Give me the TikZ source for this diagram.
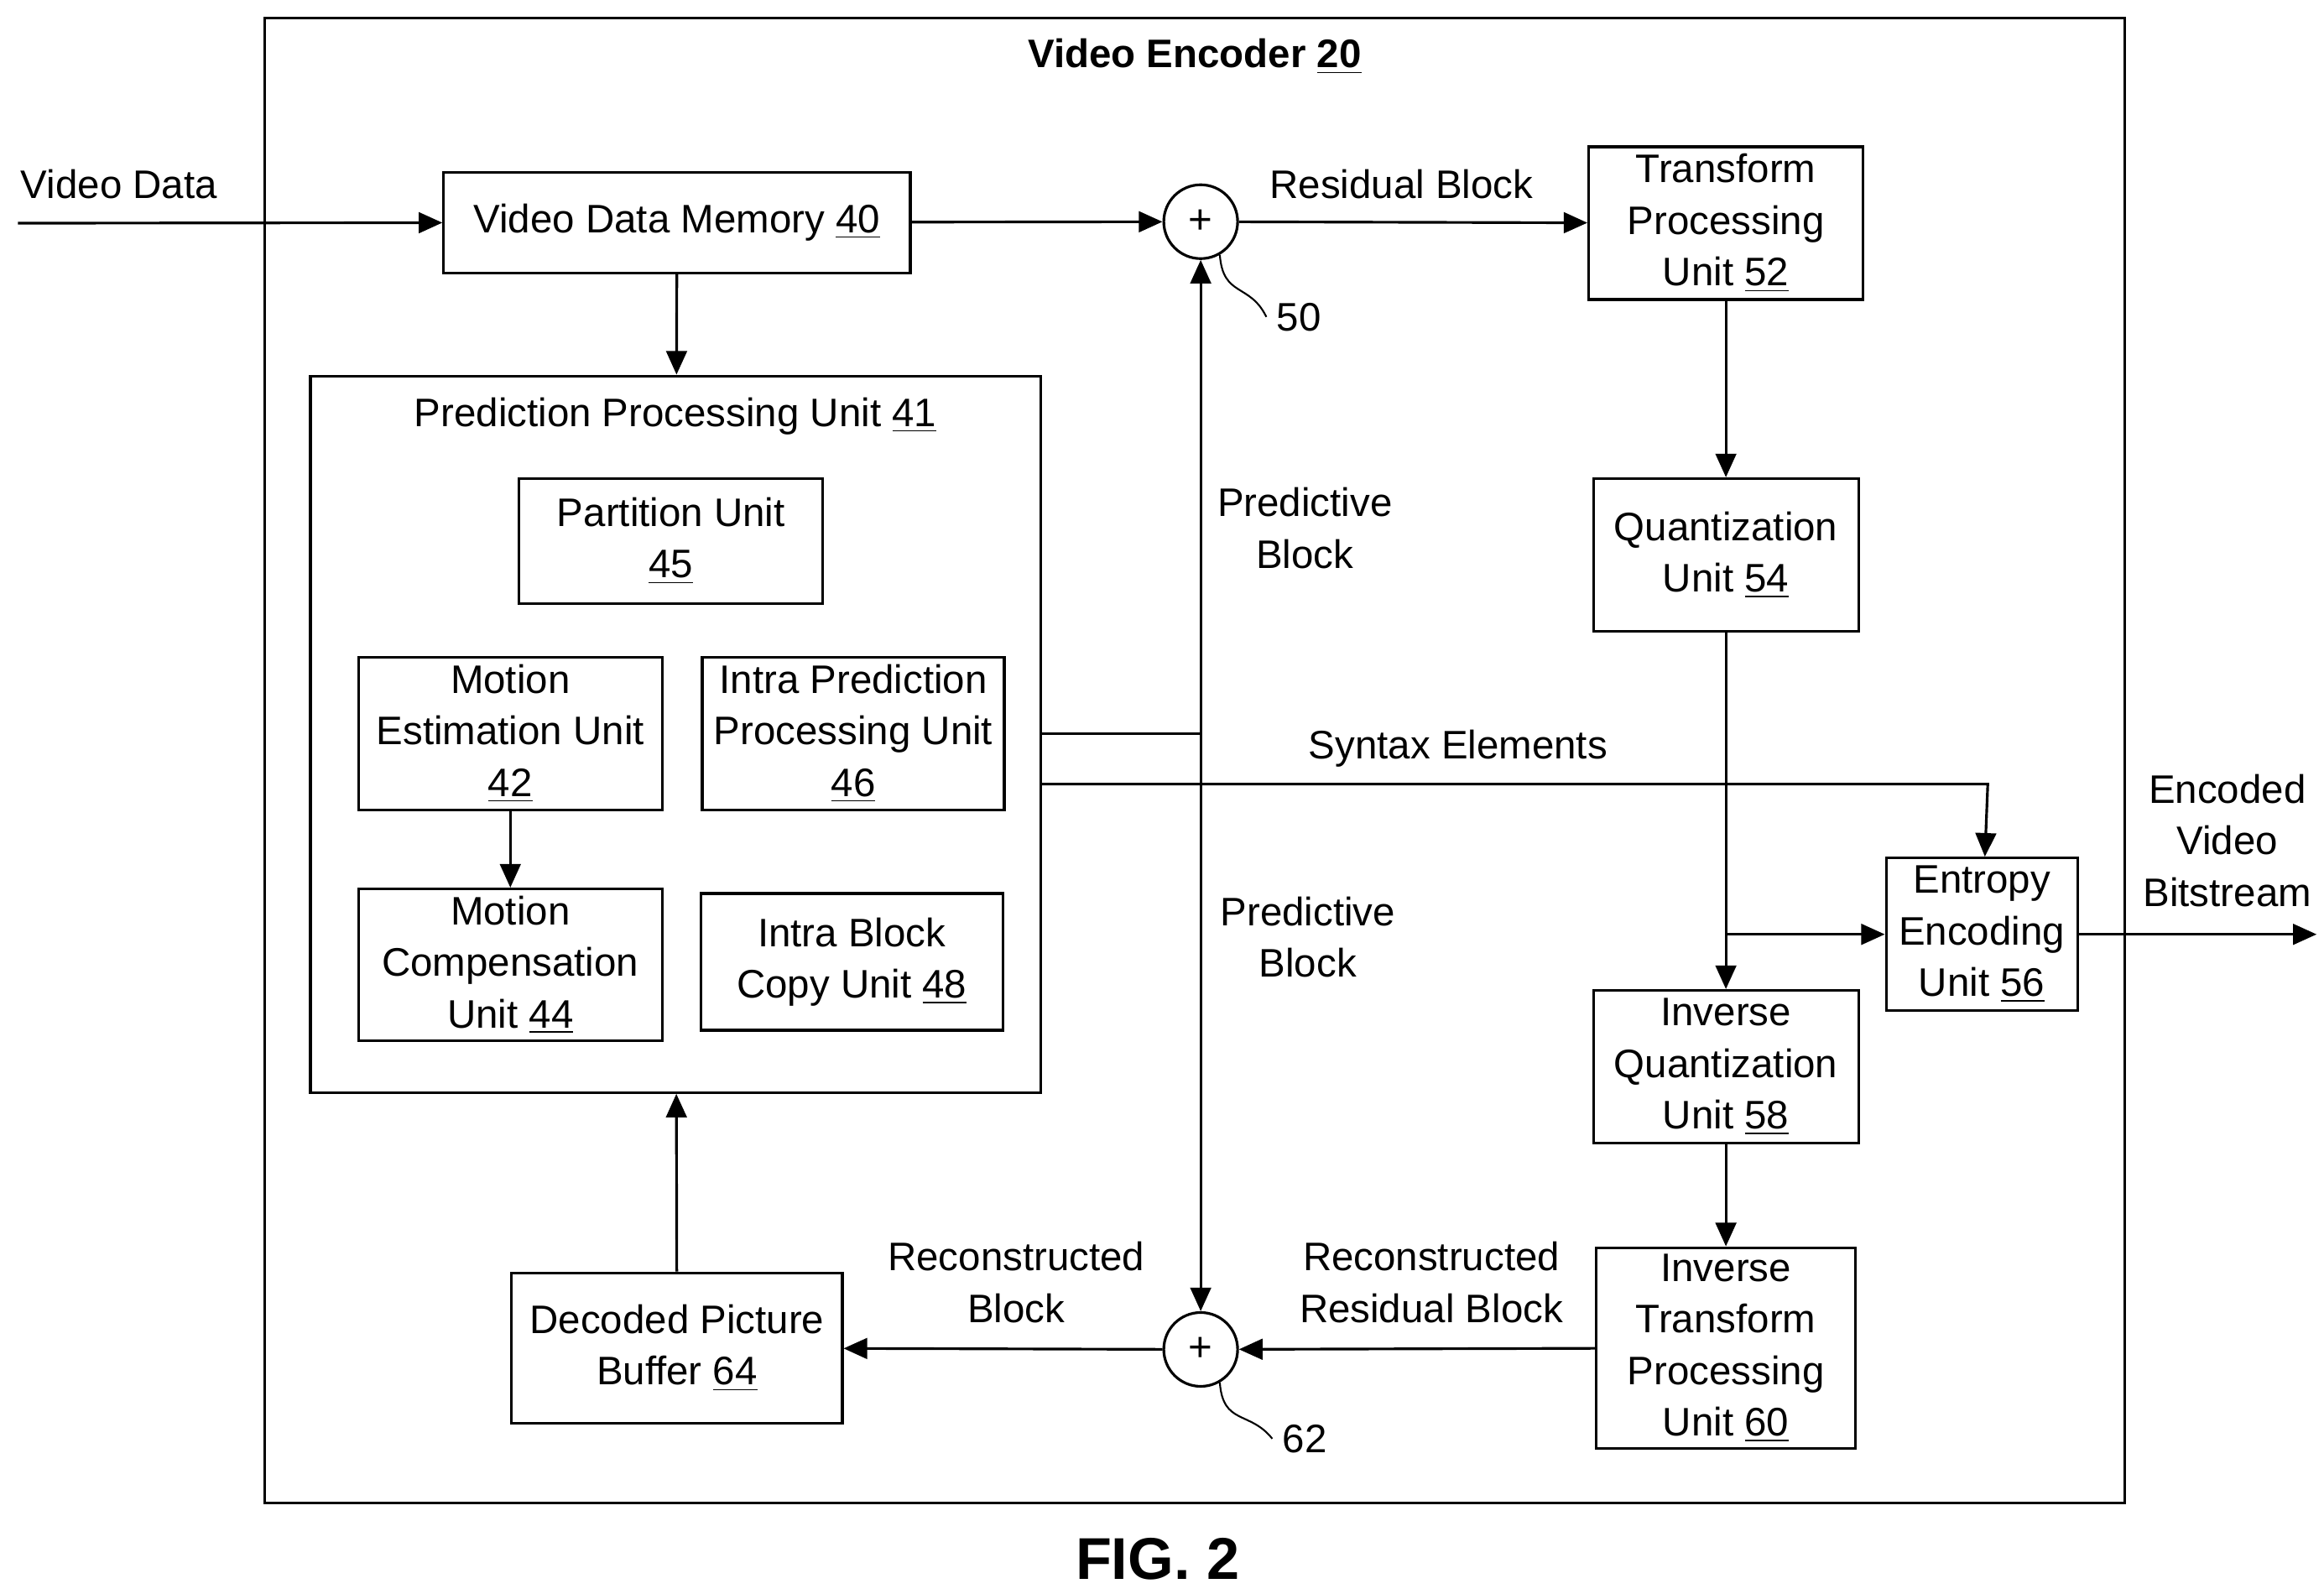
\documentclass[tikz,border=0pt]{standalone}
\usepackage{fontspec}
\setmainfont{Liberation Sans}
\usetikzlibrary{arrows.meta}
\tikzset{
  unit/.style={draw, line width=0.9pt, align=center, inner sep=0pt, font=\fontsize{13.5}{17.5}\selectfont},
  lbl/.style={align=center, font=\fontsize{13.5}{17.5}\selectfont},
  sum/.style={draw, circle, line width=0.9pt, minimum size=0.88cm, inner sep=0pt, font=\fontsize{14}{14}\selectfont},
  flow/.style={line width=0.9pt, -{Triangle[length=8pt,width=7pt]}},
}
\newcommand{\unum}[1]{\underline{#1}}
\begin{document}
\begin{tikzpicture}[x=0.01773cm, y=-0.01773cm]
        \useasboundingbox (0,0) rectangle (1562,1071);
        \draw[line width=0.9pt] (178,12) rectangle (1428,1010);
        \node[lbl, font=\bfseries\fontsize{13.5}{17}\selectfont] (title) at (803,38) {Video Encoder \unum{20}};

        \node[unit, minimum width=5.56cm, minimum height=1.2cm] (mem) at (455,149.5) {Video Data Memory \unum{40}};
        \node[sum] (s50) at (807,149) {+};
        \node[unit, minimum width=3.27cm, minimum height=1.82cm] (tp52) at (1160,150) {Transform\\Processing\\Unit \unum{52}};
        \node[unit, minimum width=3.16cm, minimum height=1.82cm] (q54) at (1160,373) {Quantization\\Unit \unum{54}};
        \node[unit, minimum width=2.28cm, minimum height=1.82cm] (ee56) at (1332,628) {Entropy\\Encoding\\Unit \unum{56}};
        \node[unit, minimum width=3.16cm, minimum height=1.82cm] (iq58) at (1160,717) {Inverse\\Quantization\\Unit \unum{58}};
        \node[unit, minimum width=3.09cm, minimum height=2.39cm] (it60) at (1160,906) {Inverse\\Transform\\Processing\\Unit \unum{60}};
        \node[sum] (s62) at (807,907) {+};
        \node[unit, minimum width=3.94cm, minimum height=1.79cm] (dpb64) at (455,906) {Decoded Picture\\Buffer \unum{64}};

        \node[draw, line width=0.9pt, minimum width=8.7cm, minimum height=8.54cm] (ppu) at (454,493.5) {};
        \node[lbl] (ppuT) at (454,280) {Prediction Processing Unit \unum{41}};
        \node[unit, minimum width=3.62cm, minimum height=1.49cm] (pu45) at (451,363.5) {Partition Unit\\\unum{45}};
        \node[unit, minimum width=3.62cm, minimum height=1.82cm] (me42) at (343,493) {Motion\\Estimation Unit\\\unum{42}};
        \node[unit, minimum width=3.6cm, minimum height=1.82cm] (ip46) at (573.5,493) {Intra Prediction\\Processing Unit\\\unum{46}};
        \node[unit, minimum width=3.62cm, minimum height=1.81cm] (mc44) at (343,648.5) {Motion\\Compensation\\Unit \unum{44}};
        \node[unit, minimum width=3.6cm, minimum height=1.63cm] (ib48) at (572.5,646.5) {Intra Block\\Copy Unit \unum{48}};

        \coordinate (vin) at (12,150);
        \coordinate (vout) at (1557,628);
        \coordinate (pp) at (807,493);
        \coordinate (se1) at (700,527);
        \coordinate (se2) at (1336,527);
        \coordinate (qb) at (1160,628);

        \node[lbl] (vd) at (80,124) {Video Data};
        \node[lbl] (rb) at (942,124) {Residual Block};
        \node[lbl] (pb1) at (877,355) {Predictive\\Block};
        \node[lbl] (pb2) at (879,630) {Predictive\\Block};
        \node[lbl] (se) at (980,503) {Syntax Elements};
        \node[lbl] (evb) at (1497,565) {Encoded\\Video\\Bitstream};
        \node[lbl] (rrb) at (962,862) {Reconstructed\\Residual Block};
        \node[lbl] (rcb) at (683,862) {Reconstructed\\Block};
        \node[lbl] (n50) at (873,213) {50};
        \node[lbl] (n62) at (877,967) {62};
        \node[font=\bfseries\fontsize{20}{24}\selectfont] (fig) at (778,1048) {FIG. 2};

        \draw[flow] (vin) -- (mem);
        \draw[flow] (mem) -- (s50);
        \draw[flow] (s50) -- (tp52);
        \draw[flow] (tp52) -- (q54);
        \draw[flow] (mem) -- (ppu);
        \draw[flow] (me42) -- (mc44);
        \draw[flow] (q54) -- (iq58);
        \draw[flow] (qb) -- (ee56);
        \draw[flow] (ee56) -- (vout);
        \draw[flow] (iq58) -- (it60);
        \draw[flow] (it60) -- (s62);
        \draw[flow] (s62) -- (dpb64);
        \draw[flow] (dpb64) -- (ppu);
        \draw[flow, {Triangle[length=8pt,width=7pt]}-{Triangle[length=8pt,width=7pt]}] (s50) -- (s62);
        \draw[line width=0.9pt] (ppu.east |- pp) -- (pp);
        \draw[flow] (se1) -- (se2) -- (ee56);
        \draw[line width=0.6pt] (s50.-60) .. controls (822,200) and (840,190) .. (n50.west);
        \draw[line width=0.6pt] (s62.-60) .. controls (822,958) and (840,948) .. (n62.west);
    \end{tikzpicture}
\end{document}
